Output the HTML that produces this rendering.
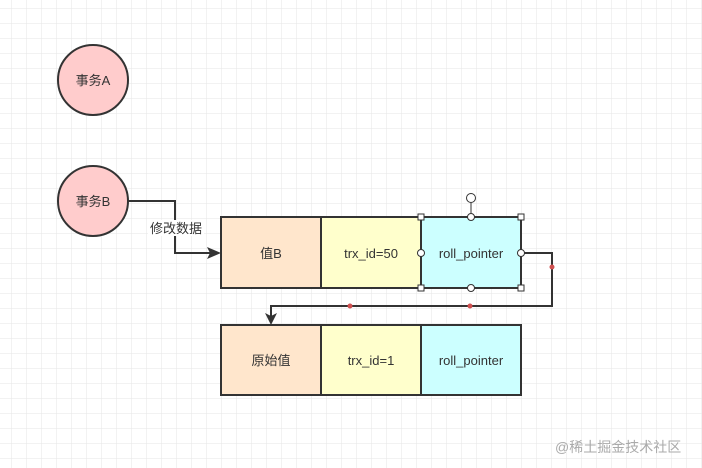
<!DOCTYPE html>
<html><head><meta charset="utf-8"><style>
html,body{margin:0;padding:0;background:#fff;}
svg{display:block;}
text{font-family:"Liberation Sans","Noto Sans CJK SC",sans-serif;font-size:13px;fill:#333;}
</style></head><body>
<svg width="702" height="468" viewBox="0 0 702 468" xmlns="http://www.w3.org/2000/svg">
<defs>
<pattern id="g" x="12" y="9" width="15" height="15" patternUnits="userSpaceOnUse">
<path d="M15 0V15M0 15H15" fill="none" stroke="#e6e6e6" stroke-width="1"/>
</pattern>
</defs>
<rect width="702" height="468" fill="url(#g)"/>
<circle cx="93" cy="80" r="35" fill="#ffcccc" stroke="#333" stroke-width="2"/>
<text x="93" y="85" text-anchor="middle">事务A</text>
<circle cx="93" cy="201" r="35" fill="#ffcccc" stroke="#333" stroke-width="2"/>
<text x="93" y="206" text-anchor="middle">事务B</text>
<polyline points="128,201 175,201 175,253 210,253" fill="none" stroke="#333" stroke-width="2"/>
<polygon points="221,253 207,247 210,253 207,259" fill="#333"/>
<rect x="148" y="220" width="56" height="16" fill="#fff"/>
<text x="176" y="233" text-anchor="middle">修改数据</text>
<rect x="221" y="217" width="100" height="71" fill="#ffe6cc" stroke="#333" stroke-width="2"/>
<rect x="321" y="217" width="100" height="71" fill="#ffffcc" stroke="#333" stroke-width="2"/>
<rect x="421" y="217" width="100" height="71" fill="#ccffff" stroke="#333" stroke-width="2"/>
<text x="271" y="258" text-anchor="middle">值B</text>
<text x="371" y="258" text-anchor="middle">trx_id=50</text>
<text x="471" y="258" text-anchor="middle">roll_pointer</text>
<polyline points="521,253 552,253 552,306 271,306 271,316" fill="none" stroke="#333" stroke-width="2"/>
<polygon points="271,325 265,313 271,316 277,313" fill="#333"/>
<circle cx="552" cy="267" r="2.5" fill="#d05050"/>
<circle cx="350" cy="306" r="2.5" fill="#d05050"/>
<circle cx="470" cy="306" r="2.5" fill="#d05050"/>
<rect x="221" y="325" width="100" height="70" fill="#ffe6cc" stroke="#333" stroke-width="2"/>
<rect x="321" y="325" width="100" height="70" fill="#ffffcc" stroke="#333" stroke-width="2"/>
<rect x="421" y="325" width="100" height="70" fill="#ccffff" stroke="#333" stroke-width="2"/>
<text x="271" y="365" text-anchor="middle">原始值</text>
<text x="371" y="365" text-anchor="middle">trx_id=1</text>
<text x="471" y="365" text-anchor="middle">roll_pointer</text>
<g fill="#fff" stroke="#333" stroke-width="1">
<line x1="471" y1="217" x2="471" y2="203"/>
<circle cx="471" cy="198" r="4.5"/>
<rect x="418" y="214" width="6" height="6"/>
<rect x="518" y="214" width="6" height="6"/>
<rect x="418" y="285" width="6" height="6"/>
<rect x="518" y="285" width="6" height="6"/>
<circle cx="471" cy="217" r="3.5"/>
<circle cx="471" cy="288" r="3.5"/>
<circle cx="421" cy="253" r="3.5"/>
<circle cx="521" cy="253" r="3.5"/>
</g>
<text x="555" y="452" style="font-size:14px;fill:#aaa">@稀土掘金技术社区</text>
</svg>
</body></html>
